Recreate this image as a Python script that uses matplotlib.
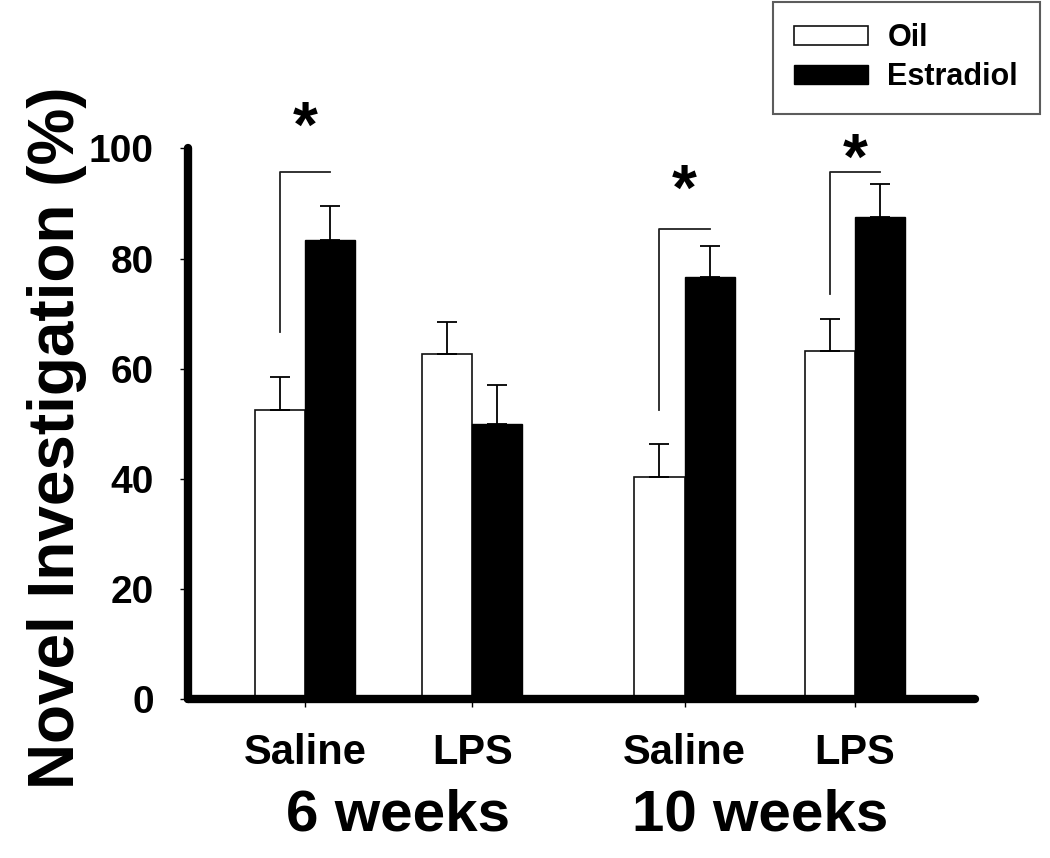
import numpy as np
import matplotlib
matplotlib.use("Agg")
import matplotlib.pyplot as plt

plt.rcParams["font.family"] = ["Liberation Sans", "DejaVu Sans"]
plt.rcParams["font.weight"] = "bold"

# data
groups = ["Saline", "LPS", "Saline", "LPS"]
ages = ["6 weeks", "10 weeks"]
oil = [52.5, 62.7, 40.4, 63.3]
oil_err = [6.0, 5.8, 6.0, 5.8]
estradiol = [83.3, 50.0, 76.7, 87.6]
estradiol_err = [6.3, 7.1, 5.5, 6.0]
# significance brackets: (group index, low end, top)
brackets = [(0, 66.7, 95.8), (2, 52.5, 85.3), (3, 73.6, 95.8)]
star_y = [103.3, 92.0, 97.5]

pos = np.array([1.0, 2.0, 3.27, 4.29])
w = 0.3

fig = plt.figure(figsize=(10.5, 8.58), dpi=100)
ax = fig.add_axes([0.179, 0.185, 0.750, 0.642])

err_kw = dict(ecolor="black", elinewidth=1.3, capsize=7, capthick=1.3)
ax.bar(pos - w / 2, oil, w, color="white", edgecolor="#111111", linewidth=1.2,
       yerr=[np.zeros(4), oil_err], error_kw=err_kw, label="Oil")
ax.bar(pos + w / 2, estradiol, w, color="black", edgecolor="black", linewidth=1.0,
       yerr=[np.zeros(4), estradiol_err], error_kw=err_kw, label="Estradiol")

# brackets and stars
for (g, lo, top), sy in zip(brackets, star_y):
    x0 = pos[g] - w / 2
    x1 = pos[g] + w / 2
    ax.plot([x0, x0, x1], [lo, top, top], color="#222222", lw=1.3, clip_on=False)
    ax.text(pos[g], sy, "*", ha="center", va="center", fontsize=46,
            fontweight="bold", clip_on=False)

ax.set_xlim(0.30, 5.01)
ax.set_ylim(0, 100)
ax.set_yticks([0, 20, 40, 60, 80, 100])
ax.set_xticks(pos)
ax.set_xticklabels(groups, fontsize=30, fontweight="bold")
ax.tick_params(axis="y", labelsize=28, length=6, width=1, pad=18.5)
ax.tick_params(axis="x", length=6, width=1, pad=18)
for lab in ax.get_yticklabels():
    lab.set_fontweight("bold")

for s in ["top", "right"]:
    ax.spines[s].set_visible(False)
for s in ["left", "bottom"]:
    ax.spines[s].set_linewidth(6)
    ax.spines[s].set_capstyle("round")

ax.set_ylabel("Novel Investigation (%)", fontsize=46, fontweight="bold")
ax.yaxis.set_label_coords(-0.128, 0.475)

# age labels under the groups
shift = [0.055, -0.06]
for i, a in enumerate(ages):
    xc = (pos[2 * i] + pos[2 * i + 1]) / 2 + shift[i]
    ax.text(xc, -0.238, a, transform=ax.get_xaxis_transform(),
            ha="center", va="baseline", fontsize=42, fontweight="bold")

leg = fig.legend(loc="upper right", bbox_to_anchor=(0.990, 0.998), fontsize=22,
                 frameon=True, fancybox=False, edgecolor="#333333",
                 handlelength=2.4, handleheight=0.6, borderpad=0.7,
                 labelspacing=0.3, handletextpad=0.65, borderaxespad=0)
leg.get_frame().set_linewidth(1.5)
for t in leg.get_texts():
    t.set_fontweight("bold")

fig.savefig("out.png", dpi=100)
